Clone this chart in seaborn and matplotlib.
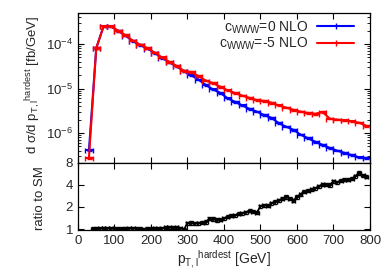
import numpy as np
import pandas as pd
import matplotlib
matplotlib.use("Agg")
import matplotlib.pyplot as plt
import seaborn as sns
from matplotlib.ticker import LogLocator, NullFormatter, FixedLocator, FixedFormatter

# ---- data ----
pt_top = [30, 50, 70, 90, 110, 130, 150, 170, 190, 210, 230, 250, 270, 290, 310,
          330, 350, 370, 390, 410, 430, 450, 470, 490, 510, 530, 550, 570, 590,
          610, 630, 650, 670, 690, 710, 730, 750, 770, 790]
log_sm = [-6.39, -4.09, -3.60, -3.60, -3.70, -3.81, -3.93, -4.02, -4.10, -4.20,
          -4.31, -4.41, -4.50, -4.61, -4.70, -4.80, -4.92, -5.02, -5.10, -5.22,
          -5.30, -5.38, -5.46, -5.52, -5.60, -5.66, -5.78, -5.86, -5.93, -6.04,
          -6.12, -6.20, -6.27, -6.34, -6.40, -6.45, -6.50, -6.55, -6.57]
log_c5 = [-6.56, -4.09, -3.60, -3.60, -3.70, -3.80, -3.92, -4.01, -4.09, -4.19,
          -4.30, -4.40, -4.49, -4.60, -4.63, -4.72, -4.82, -4.88, -4.96, -5.04,
          -5.10, -5.16, -5.21, -5.26, -5.28, -5.32, -5.38, -5.43, -5.48, -5.52,
          -5.55, -5.57, -5.53, -5.68, -5.70, -5.72, -5.74, -5.77, -5.84]
sig_sm = [10 ** v for v in log_sm]
sig_c5 = [10 ** v for v in log_c5]

pt_ratio = [40, 50, 60, 70, 80, 90, 100, 110, 120, 130, 140, 150, 160, 170, 180,
            190, 200, 210, 220, 230, 240, 250, 260, 270, 280, 290, 300, 310, 320,
            330, 340, 350, 360, 370, 380, 390, 400, 410, 420, 430, 440, 450, 460,
            470, 480, 490, 500, 510, 520, 530, 540, 550, 560, 570, 580, 590, 600,
            610, 620, 630, 640, 650, 660, 670, 680, 690, 700, 710, 720, 730, 740,
            750, 760, 770, 780, 790]
ratio = [1.00, 1.01, 1.02, 1.02, 1.03, 1.02, 1.01, 1.00, 1.01, 1.00, 1.02, 1.03,
         1.01, 1.00, 0.99, 1.00, 1.01, 1.02, 1.01, 1.03, 1.05, 1.05, 1.04, 1.05,
         1.03, 0.98, 1.20, 1.21, 1.19, 1.20, 1.22, 1.25, 1.38, 1.37, 1.33, 1.34,
         1.40, 1.48, 1.52, 1.55, 1.62, 1.65, 1.70, 1.78, 1.72, 1.68, 2.05, 2.10,
         2.08, 2.25, 2.35, 2.48, 2.60, 2.75, 2.60, 2.45, 2.75, 3.00, 3.25, 3.35,
         3.50, 3.60, 3.85, 4.10, 4.05, 4.00, 4.50, 4.35, 4.60, 4.70, 4.75, 4.90,
         5.30, 5.85, 5.40, 5.20]

label_sm = r"c$_{\mathregular{WWW}}$=0 NLO"
label_c5 = r"c$_{\mathregular{WWW}}$=-5 NLO"
rel_err_top = 0.04
rel_err_ratio = 0.05

# ---- figure ----
sns.set_style("ticks")
plt.rcParams['font.family'] = ['Liberation Sans', 'DejaVu Sans']
plt.rcParams['mathtext.fontset'] = 'custom'
plt.rcParams['mathtext.rm'] = 'Liberation Sans'
plt.rcParams['mathtext.it'] = 'Liberation Sans'
plt.rcParams['font.size'] = 9

fig = plt.figure(figsize=(3.9, 2.73), dpi=100)
ax1 = fig.add_axes([0.2, 0.403, 0.7487, 0.549])
ax2 = fig.add_axes([0.2, 0.1575, 0.7487, 0.2455])

df_top = pd.DataFrame({"pt": pt_top * 2,
                       "sigma": sig_sm + sig_c5,
                       "series": [label_sm] * len(pt_top) + [label_c5] * len(pt_top)})
colors = {label_sm: "#0000ff", label_c5: "#ff0000"}

for lab, vals in [(label_sm, sig_sm), (label_c5, sig_c5)]:
    sub = df_top[df_top.series == lab]
    sns.lineplot(data=sub, x="pt", y="sigma", ax=ax1, color=colors[lab], lw=1.5,
                 label=lab, legend=False)
    ax1.errorbar(pt_top, vals, xerr=10, yerr=[v * rel_err_top for v in vals],
                 fmt='none', ecolor=colors[lab], elinewidth=1.5, capsize=1.8,
                 capthick=1.0)

ax1.set_yscale('log')
ax1.set_xlim(0, 800)
ax1.set_ylim(2.1e-7, 5.0e-4)
ax1.set_xticks(range(0, 801, 100))
ax1.set_xticklabels([])
ax1.set_xlabel("")
ax1.yaxis.set_major_locator(LogLocator(base=10, numticks=10))
ax1.yaxis.set_minor_locator(LogLocator(base=10, subs=np.arange(2, 10), numticks=20))
ax1.yaxis.set_minor_formatter(NullFormatter())
ax1.set_ylabel(r"d $\sigma$/d p$_{\mathregular{T,l}}$$^{\mathregular{hardest}}$ [fb/GeV]",
               fontsize=9.5, labelpad=2)
ax1.yaxis.set_label_coords(-0.12, 0.52)

h = [plt.Line2D([], [], color="#0000ff", lw=1.5, marker='|', ms=4),
     plt.Line2D([], [], color="#ff0000", lw=1.5, marker='|', ms=4)]
ax1.legend(h, [label_sm, label_c5], loc='upper right', bbox_to_anchor=(0.975, 1.015),
           frameon=False, markerfirst=False, handlelength=2.7, handletextpad=0.6,
           labelspacing=0.0, fontsize=10, borderaxespad=0.2)

df_r = pd.DataFrame({"pt": pt_ratio, "ratio": ratio})
sns.lineplot(data=df_r, x="pt", y="ratio", ax=ax2, color="black", lw=1.3)
ax2.errorbar(pt_ratio, ratio, xerr=5, yerr=[r * rel_err_ratio for r in ratio],
             fmt='none', ecolor='black', elinewidth=1.3, capsize=1.5, capthick=1.0)
ax2.set_yscale('log', base=2)
ax2.set_xlim(0, 800)
ax2.set_ylim(0.969, 8)
ax2.yaxis.set_major_locator(FixedLocator([1, 2, 4, 8]))
ax2.yaxis.set_major_formatter(FixedFormatter(["1", "2", "4", "8"]))
ax2.yaxis.set_minor_locator(FixedLocator([]))
ax2.set_xticks(range(0, 801, 100))
ax2.set_ylabel("ratio to SM", fontsize=9.5, labelpad=2)
ax2.yaxis.set_label_coords(-0.11, 0.48)
ax2.set_xlabel(r"p$_{\mathregular{T,l}}$$^{\mathregular{hardest}}$ [GeV]", fontsize=10,
               labelpad=1)

for ax in (ax1, ax2):
    ax.tick_params(which='both', direction='in', top=True, right=True, labelsize=9.5,
                   color='black')
    ax.tick_params(which='major', length=4, width=0.8)
    ax.tick_params(which='minor', length=2, width=0.6)
    for s in ax.spines.values():
        s.set_linewidth(0.9)
        s.set_color('black')

fig.savefig("out.png", dpi=100)
